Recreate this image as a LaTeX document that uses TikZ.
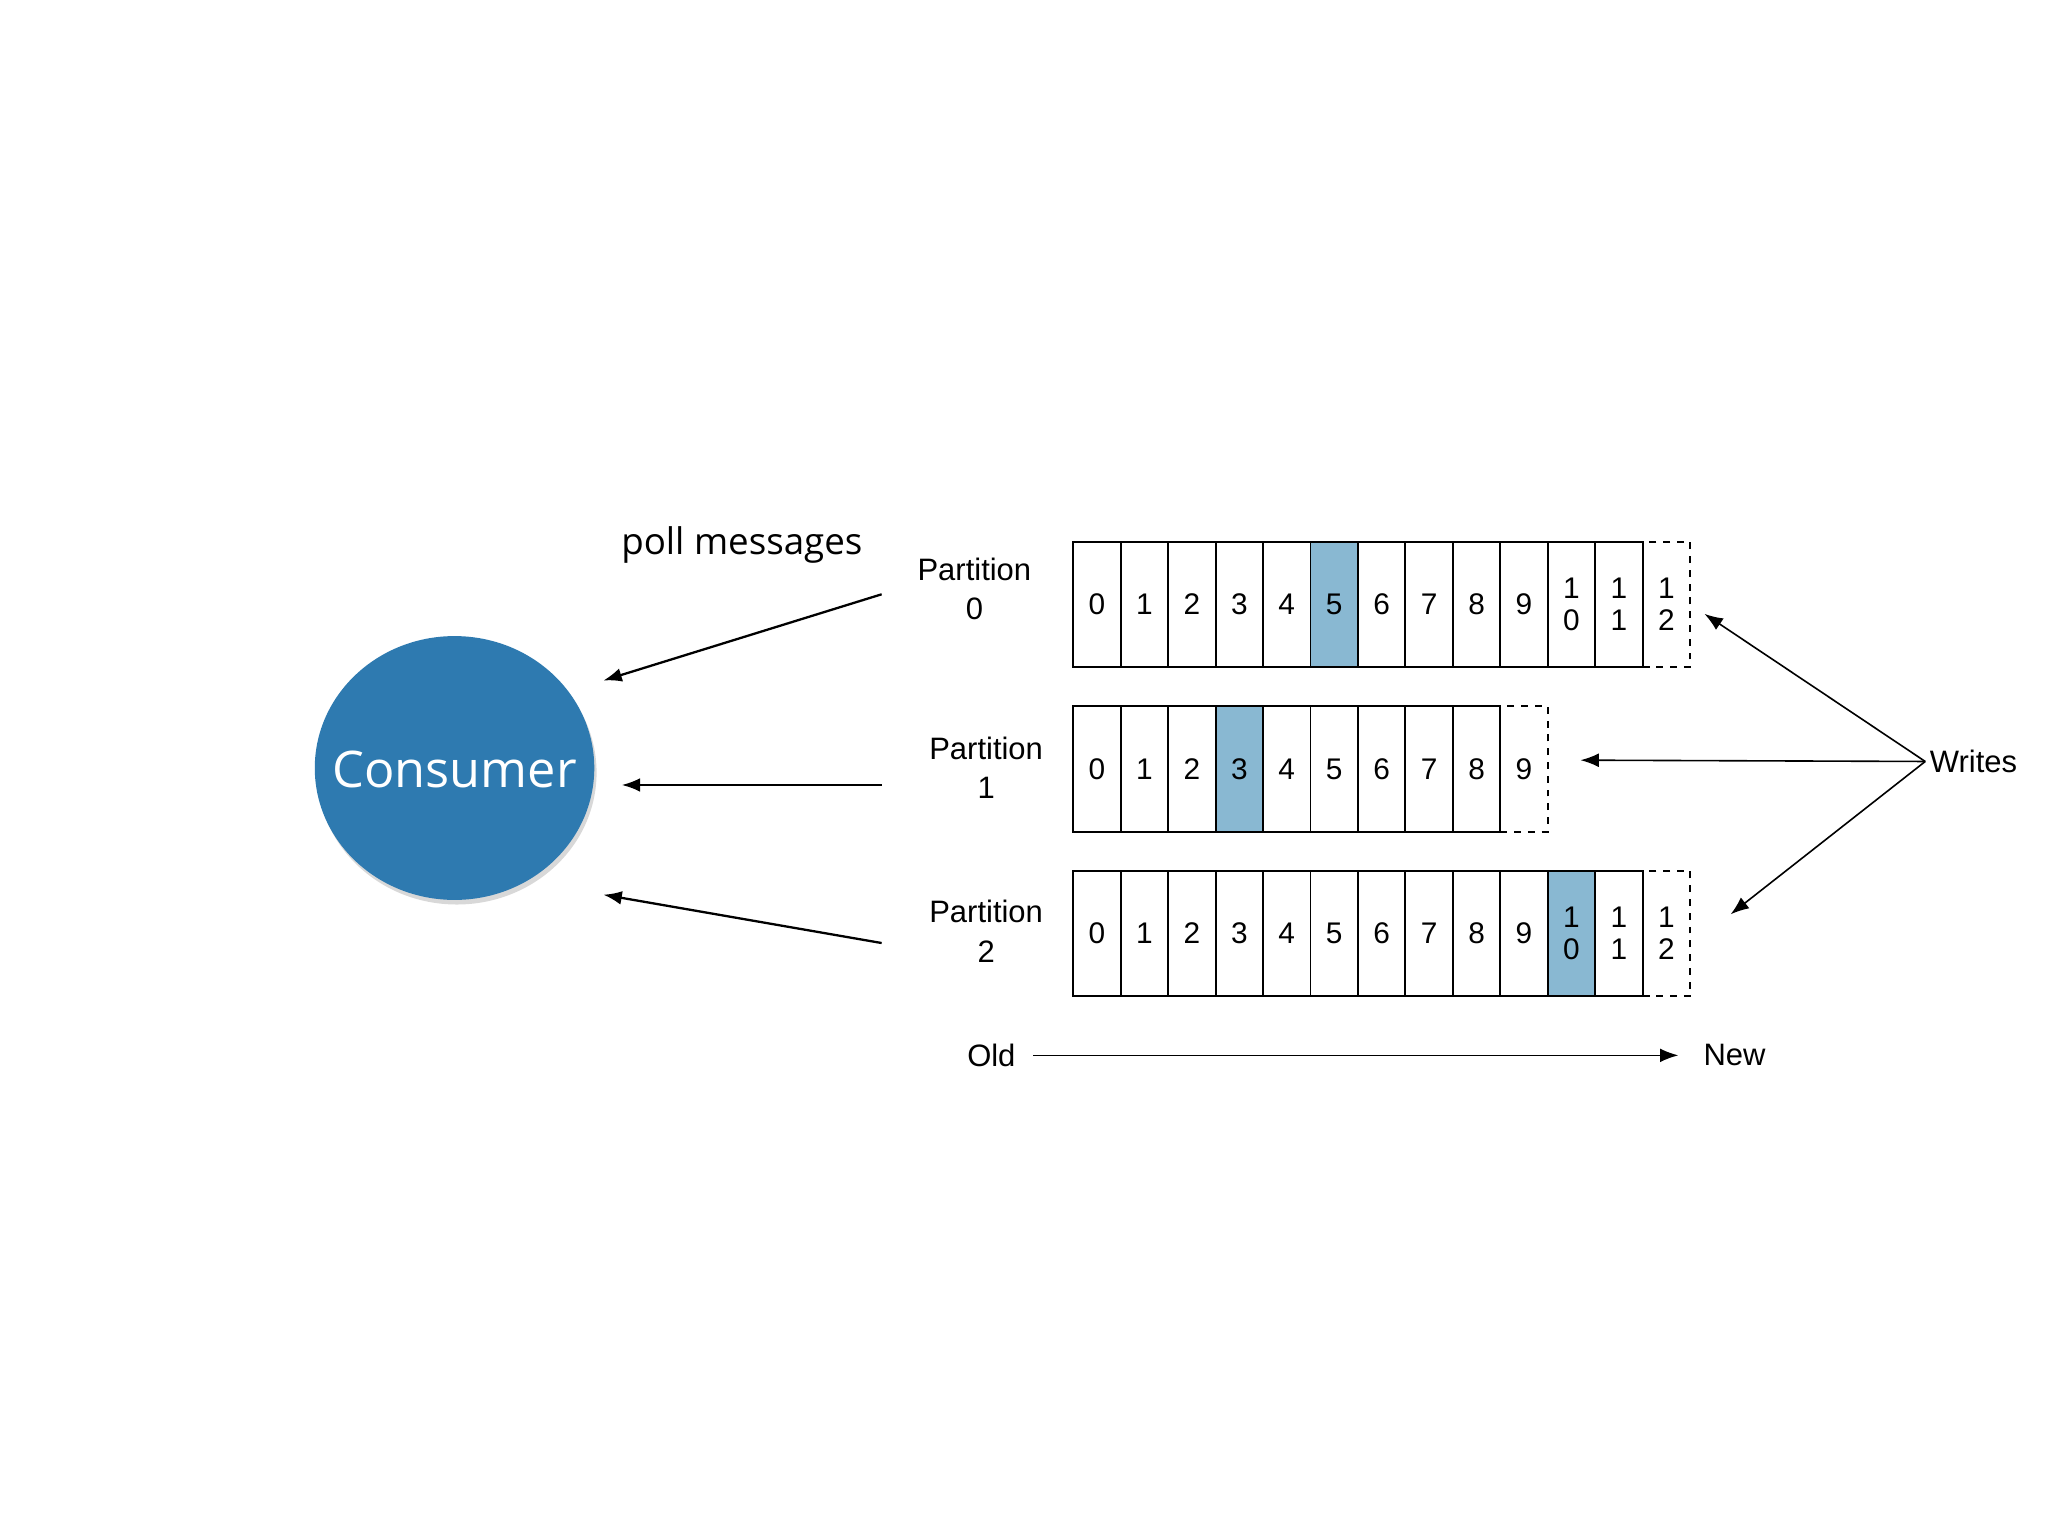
\documentclass[tikz,border=0pt]{standalone}
\usepackage{fontspec}
\setmainfont{Liberation Sans}
\newfontfamily\light{Open Sans}
\usetikzlibrary{arrows.meta,shadows,shapes.geometric}
\definecolor{cons}{RGB}{46,122,176}
\definecolor{hl}{RGB}{137,184,210}
\begin{document}
\begin{tikzpicture}[x=0.02cm,y=-0.02cm,
  cell/.style={draw,line width=0.8pt,minimum width=36.3*0.02cm,minimum height=96*0.02cm,inner sep=0,anchor=north west,font=\fontsize{13}{15}\selectfont},
  dcell/.style={cell,dashed},
  hcell/.style={cell,fill=hl},
  lab/.style={align=center,font=\fontsize{13.5}{17}\selectfont},
  arr/.style={-{Latex[length=8pt,width=6pt]},line width=1pt},
  warr/.style={-{Latex[length=8pt,width=6pt]},line width=0.7pt}]
\useasboundingbox (0,0) rectangle (1568,1176);
\fill[white] (0,0) rectangle (1568,1176);
\node[ellipse,minimum width=214*0.02cm,minimum height=202*0.02cm,fill=cons,draw=none,
  drop shadow={shadow xshift=1pt,shadow yshift=-2pt,opacity=0.3}] (c) at (348,588) {};
\node[text=white,font=\light\fontsize{22}{26}\selectfont] (ct) at (348,589) {Consumer};
\node[font=\light\fontsize{16}{20}\selectfont] (pm) at (568,417) {poll messages};
% rows
\foreach \r/\Y/\n/\h in {0/414/12/5,1/540/9/3,2/666/12/10}{
  \foreach \i in {0,...,\n}{
    \pgfmathtruncatemacro{\last}{\n}
    \ifnum\i=\last \def\st{dcell}\else\ifnum\i=\h \def\st{hcell}\else\def\st{cell}\fi\fi
    \ifnum\i>9
      \pgfmathtruncatemacro{\d}{\i-10}
      \node[\st,align=center,font=\fontsize{13}{15}\selectfont] (r\r c\i) at (821+36.33*\i,\Y) {1\\[-1pt]\d};
    \else
      \node[\st] (r\r c\i) at (821+36.33*\i,\Y) {\i};
    \fi
  }
}
\node[lab] (p0) at (746,451) {Partition\\0};
\node[lab] (p1) at (755,588) {Partition\\1};
\node[lab] (p2) at (755,713) {Partition\\2};
\coordinate (a0) at (675,455); \coordinate (b0) at (462,521);
\coordinate (a1) at (675,601); \coordinate (b1) at (476,601);
\coordinate (a2) at (675,722); \coordinate (b2) at (462,685);
\draw[arr] (a0) -- (b0);
\draw[arr] (a1) -- (b1);
\draw[arr] (a2) -- (b2);
\node[font=\fontsize{13.5}{16}\selectfont,inner sep=1pt] (w) at (1511,583) {Writes};
\coordinate (wo) at (1474,583);
\coordinate (t0) at (1305,470); \coordinate (t1) at (1210,582); \coordinate (t2) at (1325,700);
\draw[warr] (wo) -- (t0);
\draw[warr] (wo) -- (t1);
\draw[warr] (wo) -- (t2);
\node[font=\fontsize{13.5}{16}\selectfont] (old) at (759,808) {Old};
\node[font=\fontsize{13.5}{16}\selectfont] (new) at (1328,808) {New};
\coordinate (o1) at (791,808); \coordinate (o2) at (1285,808);
\draw[warr] (o1) -- (o2);
\end{tikzpicture}
\end{document}
